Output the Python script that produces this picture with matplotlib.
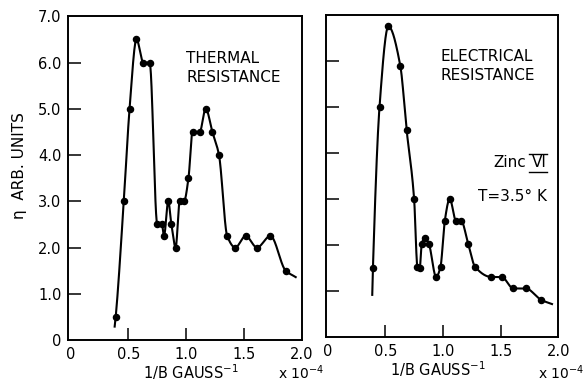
import numpy as np
import matplotlib
matplotlib.use("Agg")
import matplotlib.pyplot as plt

# Thermal resistance (left panel): measured points, 1/B in units of 1e-4 gauss^-1
thermal_x = [0.39, 0.46, 0.51, 0.57, 0.63, 0.684, 0.75, 0.79, 0.808, 0.845,
             0.872, 0.909, 0.944, 0.981, 1.02, 1.055, 1.117, 1.169, 1.227,
             1.284, 1.355, 1.425, 1.515, 1.613, 1.729, 1.861]
thermal_y = [0.5, 3.0, 5.0, 6.5, 6.0, 6.0, 2.5, 2.5, 2.25, 3.0,
             2.5, 2.0, 3.0, 3.0, 3.5, 4.5, 4.5, 5.0, 4.5,
             4.0, 2.25, 2.0, 2.25, 2.0, 2.25, 1.5]
# where the drawn curve starts and stops beyond the first/last point
thermal_start = (0.381, 0.29)
thermal_end = (1.948, 1.36)

# Electrical resistance (right panel)
electric_x = [0.392, 0.449, 0.526, 0.629, 0.684, 0.749, 0.778, 0.798, 0.815,
              0.843, 0.877, 0.94, 0.978, 1.015, 1.058, 1.113, 1.157, 1.218,
              1.278, 1.419, 1.508, 1.61, 1.717, 1.851]
electric_y = [1.5, 5.0, 6.75, 5.9, 4.5, 3.0, 1.52, 1.5, 2.02,
              2.15, 2.02, 1.3, 1.52, 2.52, 3.0, 2.52, 2.52, 2.02,
              1.52, 1.3, 1.3, 1.05, 1.05, 0.8]
electric_start = (0.386, 0.91)
electric_end = (1.945, 0.71)

x_ticks = [0, 0.5, 1.0, 1.5, 2.0]
x_ticklabels = ["0", "0.5", "1.0", "1.5", "2.0"]
y_ticks = [0, 1, 2, 3, 4, 5, 6, 7]
y_ticklabels = ["0", "1.0", "2.0", "3.0", "4.0", "5.0", "6.0", "7.0"]


def smooth_curve(x, y, num=600):
    """Monotone cubic (Fritsch-Carlson) curve through the given points."""
    x = np.asarray(x, float)
    y = np.asarray(y, float)
    h = np.diff(x)
    delta = np.diff(y) / h
    d = np.zeros_like(y)
    d[0], d[-1] = delta[0], delta[-1]
    for k in range(1, len(x) - 1):
        if delta[k - 1] * delta[k] > 0:
            w1 = 2 * h[k] + h[k - 1]
            w2 = h[k] + 2 * h[k - 1]
            d[k] = (w1 + w2) / (w1 / delta[k - 1] + w2 / delta[k])
    xs = np.linspace(x[0], x[-1], num)
    idx = np.clip(np.searchsorted(x, xs) - 1, 0, len(x) - 2)
    t = (xs - x[idx]) / h[idx]
    h00 = 2 * t**3 - 3 * t**2 + 1
    h10 = t**3 - 2 * t**2 + t
    h01 = -2 * t**3 + 3 * t**2
    h11 = t**3 - t**2
    ys = (h00 * y[idx] + h10 * h[idx] * d[idx]
          + h01 * y[idx + 1] + h11 * h[idx] * d[idx + 1])
    return xs, ys


def draw_panel(ax, xs, ys, start, end, xlim, ylim, show_ylabels):
    cx, cy = smooth_curve([start[0]] + xs + [end[0]],
                          [start[1]] + ys + [end[1]])
    ax.plot(cx, cy, color="black", lw=1.5)
    ax.plot(xs, ys, "o", color="black", ms=4.4)

    ax.set_xlim(*xlim)
    ax.set_ylim(*ylim)
    ax.set_xticks(x_ticks)
    ax.set_xticklabels(x_ticklabels)
    ax.set_yticks(y_ticks)
    if show_ylabels:
        ax.set_yticklabels(y_ticklabels)
    else:
        ax.set_yticklabels([])
    ax.tick_params(direction="in", length=9, width=1.1, labelsize=10.5)
    ax.tick_params(axis="y", pad=5)
    ax.tick_params(axis="x", pad=5)
    # the end ticks sit on the frame, keep only their labels
    for tick in (ax.xaxis.get_major_ticks()[0], ax.xaxis.get_major_ticks()[-1],
                 ax.yaxis.get_major_ticks()[0], ax.yaxis.get_major_ticks()[-1]):
        tick.tick1line.set_visible(False)
    for spine in ax.spines.values():
        spine.set_linewidth(1.4)


fig = plt.figure(figsize=(5.83, 3.81), dpi=100)
ax1 = fig.add_axes([0.1172, 0.1076, 0.4003, 0.8496])
ax2 = fig.add_axes([0.5592, 0.1163, 0.3985, 0.8444])

draw_panel(ax1, thermal_x, thermal_y, thermal_start, thermal_end,
           (-0.02, 2.0), (0, 7.0), True)
draw_panel(ax2, electric_x, electric_y, electric_start, electric_end,
           (-0.015, 2.0), (0.05, 7.0), False)

ax1.text(0.505, 0.84, "THERMAL\nRESISTANCE", transform=ax1.transAxes,
         ha="left", va="center", fontsize=11, linespacing=1.3)
ax2.text(0.493, 0.841, "ELECTRICAL\nRESISTANCE", transform=ax2.transAxes,
         ha="left", va="center", fontsize=11, linespacing=1.3)

# "Zinc VI" with the numeral barred above and below
ax2.text(0.862, 0.541, "Zinc", transform=ax2.transAxes,
         ha="right", va="center", fontsize=11)
ax2.text(0.951, 0.541, "VI", transform=ax2.transAxes,
         ha="right", va="center", fontsize=11)
ax2.plot([0.874, 0.953], [0.569, 0.569], color="black", lw=1.0,
         transform=ax2.transAxes)
ax2.plot([0.874, 0.953], [0.513, 0.513], color="black", lw=1.0,
         transform=ax2.transAxes)
ax2.text(0.951, 0.436, "T=3.5\u00b0 K", transform=ax2.transAxes,
         ha="right", va="center", fontsize=11)

fig.text(0.034, 0.565, "\u03b7  ARB. UNITS", rotation=90,
         ha="center", va="center", fontsize=11)

fig.text(0.328, 0.006, "1/B GAUSS$^{-1}$", ha="center", va="baseline",
         fontsize=10.5)
fig.text(0.751, 0.012, "1/B GAUSS$^{-1}$", ha="center", va="baseline",
         fontsize=10.5)
fig.text(0.477, 0.004, "x 10$^{-4}$", ha="left", va="baseline", fontsize=10)
fig.text(0.922, 0.006, "x 10$^{-4}$", ha="left", va="baseline", fontsize=10)

fig.savefig("out.png", dpi=100)
